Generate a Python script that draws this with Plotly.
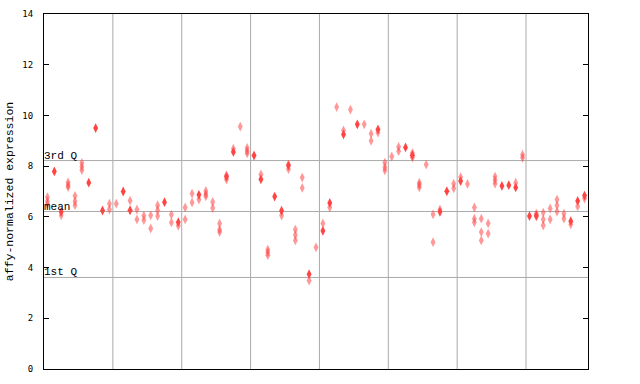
import plotly.graph_objects as go

# per-sample values (79 samples, 8 groups separated by grid lines)
solid_values = [
    None, 7.79, 6.20, None, None, None, 7.35, 9.50, 6.25, None,
    None, 7.00, 6.26, None, None, None, None, 6.58, None, 5.79,
    None, None, 6.87, None, None, None, 7.58, 8.56, None, None,
    8.42, 7.48, None, 6.80, 6.24, 8.02, None, None, 3.74, None,
    5.45, 6.55, None, 9.25, None, 9.65, None, None, 9.45, None,
    None, None, 8.74, 8.43, None, None, None, 6.20, 7.01, None,
    7.41, None, None, None, None, None, 7.22, 7.25, 7.16, None,
    6.03, 6.05, None, None, None, None, 5.83, 6.63, 6.84,
]
pattern_values = [
    [6.78, 6.62, 6.50], [], [6.06], [7.36, 7.25, 7.17], [6.83, 6.62, 6.46],
    [8.13, 7.98, 7.84], [], [], [], [6.52, 6.29],
    [6.52], [], [6.64], [6.29, 5.90], [6.05, 5.87],
    [6.06, 5.54], [6.46, 6.26, 6.03], [], [6.09, 5.78], [5.65],
    [6.37, 5.90], [6.92, 6.57], [6.68], [7.02, 6.90, 6.81], [6.59, 6.35],
    [5.74, 5.50, 5.40], [7.64, 7.47], [8.69], [9.56], [8.72, 8.60, 8.50],
    [], [7.67], [4.71, 4.60, 4.49], [], [6.05],
    [8.07, 7.88], [5.50, 5.28, 5.07], [7.55, 7.14], [3.49], [4.80],
    [5.74], [6.37], [10.33], [9.41], [10.23],
    [], [9.65], [9.28, 9.00], [9.32], [8.14, 7.96, 7.83],
    [8.38], [8.76, 8.59], [], [8.52, 8.34], [7.35, 7.26, 7.16],
    [8.06], [6.10, 5.00], [6.29], [], [7.31, 7.12],
    [7.57], [7.30], [6.37, 5.93, 5.78], [5.93, 5.40, 5.07], [5.74, 5.34],
    [7.59, 7.45, 7.31], [], [], [7.35], [8.45, 8.33],
    [], [6.13, 6.01], [6.17, 5.90, 5.66], [6.33, 5.90], [6.68, 6.45, 6.21],
    [6.13, 5.93], [5.70], [6.41], [6.72],
]
group_size = 10
quartile_names = ["1st Q", "mean", "3rd Q"]
quartile_values = [3.61, 6.21, 8.22]
y_ticks = [0, 2, 4, 6, 8, 10, 12, 14]

n = len(solid_values)
px_x, px_y = [], []
for i, vals in enumerate(pattern_values):
    for v in vals:
        px_x.append(i)
        px_y.append(v)
sx = [i for i, v in enumerate(solid_values) if v is not None]
sy = [v for v in solid_values if v is not None]

label_font = dict(family="Liberation Mono", size=11, color="black")
tick_font = dict(family="DejaVu Sans Mono", size=9, color="black")

fig = go.Figure()
fig.add_trace(go.Scatter(
    x=px_x, y=px_y, mode="markers",
    marker=dict(symbol="diamond-tall", size=7, color="rgba(255,70,70,0.55)",
                line=dict(width=0)),
    showlegend=False, hoverinfo="skip"))
fig.add_trace(go.Scatter(
    x=sx, y=sy, mode="markers",
    marker=dict(symbol="diamond-tall", size=7, color="#ff4444",
                line=dict(width=0)),
    showlegend=False, hoverinfo="skip"))

shapes = []
for g in range(1, (n + group_size - 1) // group_size):
    xv = g * group_size - 0.5
    shapes.append(dict(type="line", xref="x", yref="paper", x0=xv, x1=xv,
                       y0=0, y1=1, line=dict(color="#aaaaaa", width=1),
                       layer="below"))
annotations = []
for name, q in zip(quartile_names, quartile_values):
    shapes.append(dict(type="line", xref="paper", yref="y", x0=0, x1=1,
                       y0=q, y1=q, line=dict(color="#aaaaaa", width=1),
                       layer="below"))
    annotations.append(dict(text=name, xref="paper", yref="y", x=0, y=q,
                            xanchor="left", yanchor="bottom", showarrow=False,
                            font=label_font, xshift=-2, yshift=-3))

fig.update_layout(
    width=640, height=384,
    margin=dict(l=44, r=52, t=14, b=15),
    paper_bgcolor="white", plot_bgcolor="white",
    xaxis=dict(range=[-0.5, n - 0.5], showticklabels=False, ticks="",
               showgrid=False, zeroline=False, showline=True,
               linecolor="black", linewidth=1, mirror=True,
               automargin=False),
    yaxis=dict(range=[0, 14], tickvals=y_ticks, ticks="inside", ticklen=5,
               tickcolor="black", showgrid=False, zeroline=False,
               showline=True, linecolor="black", linewidth=1, mirror="ticks",
               tickfont=tick_font, ticklabelstandoff=8, automargin=False,
               title=dict(text="affy-normalized expression",
                          font=dict(family="Liberation Mono", size=11.5,
                                    color="black"),
                          standoff=6)),
    shapes=shapes, annotations=annotations,
)
fig.write_html("out.html")
